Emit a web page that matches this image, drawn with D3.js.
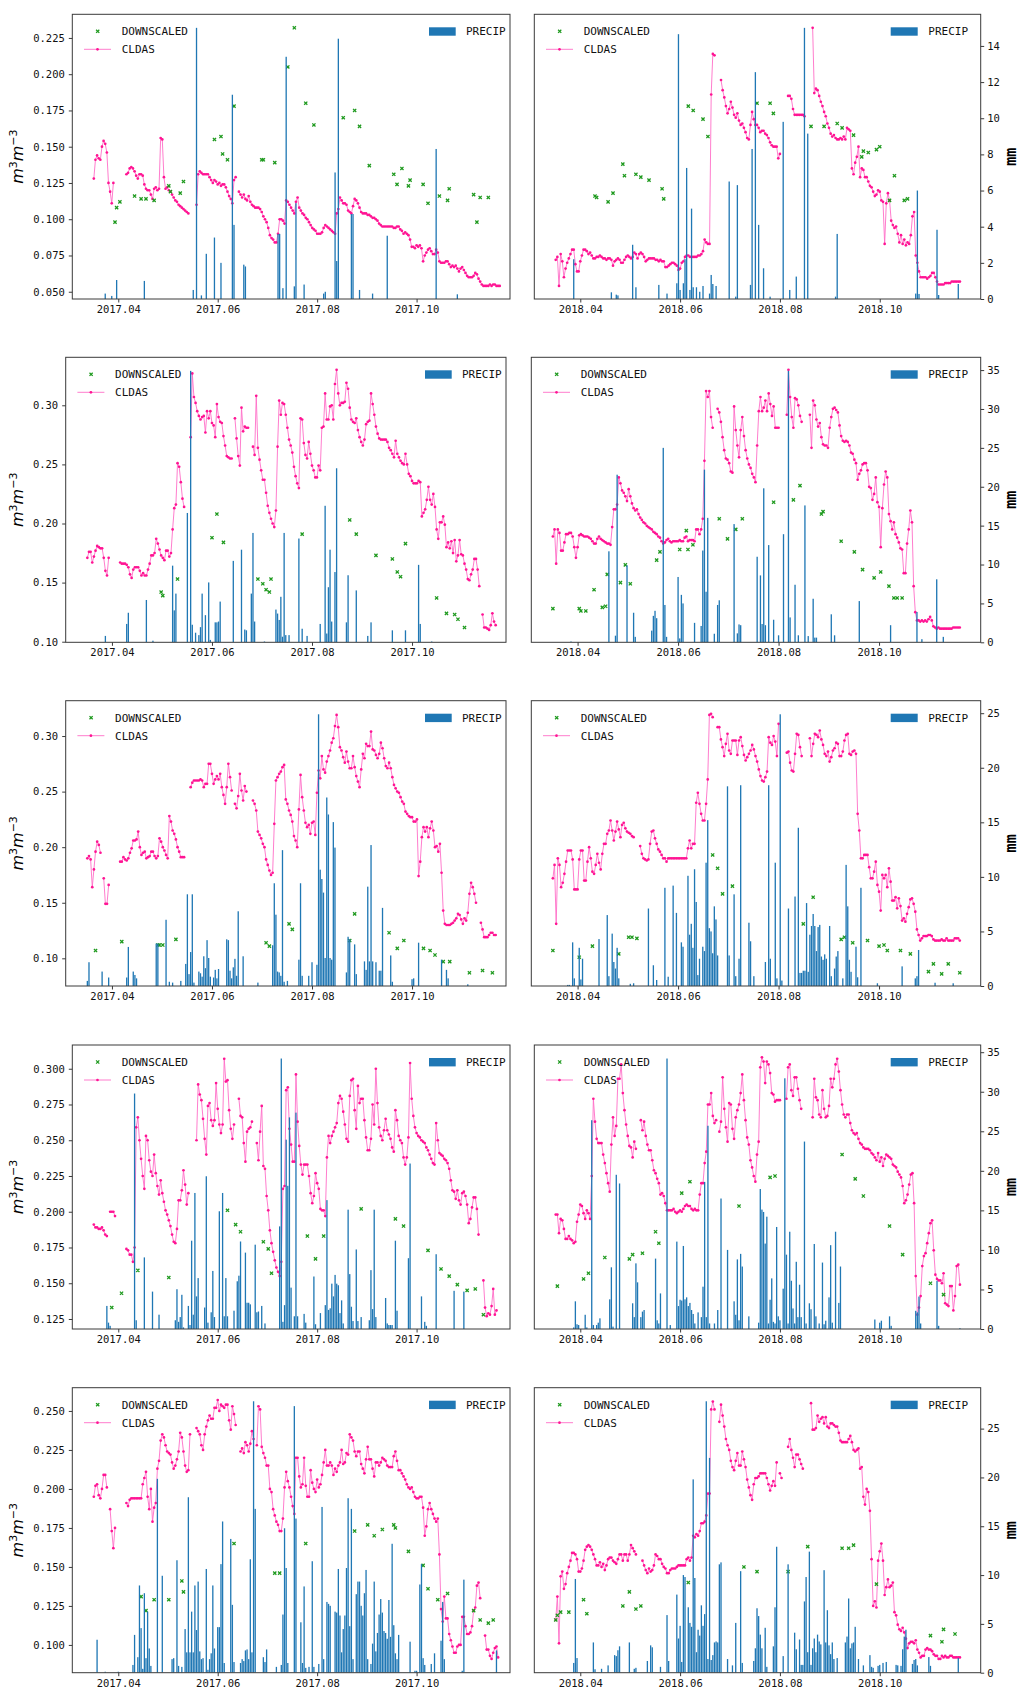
<!DOCTYPE html>
<html>
<head>
<meta charset="utf-8">
<script src="https://cdn.jsdelivr.net/npm/d3@7"></script>
<style>
body{margin:0;background:#fff;}
</style>
</head>
<body>
<svg id="fig"></svg>
<script>
// ---------------- data ----------------
// CLDAS soil moisture, one value per day from the start date, in 1e-3 m3/m3 (null = missing day)
var startDate2017 = "2017-03-17";
var startDate2018 = "2018-03-17";

var cldas17r1 = [128,141,144,142,141,150,154,152,146,125,119,111,125,
null,null,null,null,null,null,null,
131,132,135,136,135,133,130,128,131,131,130,124,121,120,120,117,114,121,122,120,121,156,155,129,121,122,120,119,117,115,113,112,110,109,108,107,106,105,104,
null,null,null,null,
110,131,133,132,131,131,131,131,129,127,125,127,126,124,125,123,124,124,122,119,116,114,111,127,129,
null,
119,117,115,117,114,113,116,112,110,109,108,108,108,107,105,102,100,98,94,89,87,86,84,84,90,100,100,99,97,113,112,110,108,106,104,112,115,108,106,104,103,101,100,98,96,94,93,92,90,90,90,91,94,96,95,94,93,92,91,90,104,107,115,113,111,111,110,106,105,104,109,114,113,111,108,105,104,104,104,103,103,102,101,101,100,99,97,96,95,95,95,95,95,95,95,94,94,95,95,93,92,90,91,90,89,86,81,81,80,82,81,82,80,71,75,77,79,80,78,76,76,79,77,71,70,70,70,71,71,69,67,68,67,68,66,64,66,67,65,63,61,60,60,60,61,63,62,59,57,55,54,54,54,54,55,54,55,55,54,54,54];

var cldas18r1 = [72,74,54,76,71,60,66,70,73,76,79,79,69,64,64,71,75,79,79,78,76,77,75,73,73,74,74,75,74,73,73,72,73,73,72,68,71,72,73,72,70,70,72,74,75,74,73,74,77,76,73,76,77,76,74,71,72,73,73,73,73,72,72,71,72,71,71,67,67,68,69,70,70,69,68,65,66,70,71,74,75,75,74,74,74,74,74,75,75,76,78,86,84,83,83,186,214,213,
null,null,null,
196,189,184,178,173,176,181,177,172,170,173,168,165,166,163,160,156,155,165,174,169,165,165,163,160,161,161,159,158,156,153,151,150,150,150,142,145,
null,null,null,null,
185,185,183,176,172,172,172,172,172,172,171,
null,null,null,null,
232,187,190,189,185,181,178,174,171,166,163,159,157,158,156,155,155,156,155,157,155,163,162,161,135,131,139,143,150,129,135,134,129,129,126,123,122,119,116,117,120,119,113,112,83,111,118,113,99,96,94,95,90,84,89,83,86,82,84,83,89,102,105,75,70,64,60,60,60,60,59,60,61,63,63,60,57,55,55,55,55,56,56,56,56,57,57,57,57,57,57];

var cldas17r2 = [171,176,176,167,172,177,181,180,179,179,171,160,156,171,
null,null,null,null,null,null,
167,166,166,166,165,163,157,154,161,163,163,163,160,156,158,156,156,161,166,173,173,175,187,183,178,173,171,169,177,177,172,175,195,213,216,251,248,235,221,214,
null,null,null,
273,327,307,302,295,291,288,290,291,277,295,289,295,285,283,273,301,290,286,285,274,266,257,256,255,255,
null,
289,272,257,249,298,278,282,281,281,
null,null,
265,258,308,264,254,245,237,237,226,215,209,204,200,197,211,265,304,292,302,301,292,281,271,266,260,248,240,234,230,289,288,268,258,255,269,259,249,245,239,239,249,245,281,282,310,288,288,299,300,288,318,330,310,300,302,302,303,319,314,298,288,286,285,289,279,273,269,266,271,284,286,287,310,301,292,282,276,272,271,271,271,271,269,264,262,259,256,270,259,256,253,251,250,259,250,242,240,236,234,234,234,236,235,206,209,212,220,231,220,216,225,214,195,187,201,201,206,199,180,184,179,185,175,186,168,173,186,174,173,166,161,153,152,157,161,170,170,161,147,
null,
123,112,112,111,110,114,124,117,114];

var cldas18r2 = [189,195,166,195,192,177,177,184,191,191,192,192,189,180,171,180,190,191,190,189,189,189,188,187,185,183,183,187,189,187,186,185,184,183,183,182,197,212,212,216,239,234,228,226,223,219,229,223,217,213,211,212,208,205,203,201,200,198,197,196,195,193,192,191,189,188,185,183,184,186,187,185,184,185,185,185,185,186,185,185,188,189,185,186,186,186,185,195,195,191,195,204,253,312,307,312,290,281,
null,null,
297,294,286,273,262,255,254,251,244,243,299,279,266,256,279,290,274,262,255,250,247,242,239,235,266,295,307,295,298,304,295,310,301,291,299,281,281,281,
null,null,null,null,
292,330,307,290,281,306,305,300,291,286,
null,null,null,null,
292,264,304,300,288,282,285,273,267,266,266,264,281,290,297,298,296,294,283,274,270,269,270,269,266,260,259,254,251,237,242,245,250,251,251,245,231,230,220,225,239,218,214,180,213,233,244,239,208,202,195,201,191,188,184,179,178,158,158,183,195,211,201,147,125,118,118,117,118,117,118,117,119,121,118,113,112,111,112,111,111,111,111,111,111,111,111,112,112,112,112,112];

var cldas17r3 = [190,192,189,164,180,196,205,202,195,
null,
172,149,149,166,
null,null,null,null,null,null,
187,187,191,189,188,190,195,199,206,206,207,214,200,193,195,196,190,191,192,196,196,192,190,192,208,205,200,197,193,190,228,223,215,212,207,200,196,191,191,191,
null,null,null,
254,258,260,260,260,260,261,260,254,257,257,275,275,266,257,261,264,261,266,254,247,239,254,275,263,251,
null,
239,235,246,266,251,242,255,250,
null,null,null,
242,239,233,214,211,208,203,200,189,184,179,175,177,221,260,263,266,268,272,274,243,239,233,229,223,210,206,200,234,265,245,233,222,218,220,212,222,223,211,249,269,262,282,270,267,277,282,287,294,298,309,319,308,290,287,281,276,286,277,271,271,282,272,264,259,254,270,284,280,293,291,291,304,288,287,283,280,284,294,289,280,273,271,276,271,263,256,253,250,249,245,241,239,232,230,228,227,227,223,223,225,174,187,209,218,214,218,209,217,223,215,200,201,196,203,177,143,131,130,130,130,131,132,134,136,140,139,135,131,136,134,141,158,168,164,158,150,
null,null,
132,126,119,119,119,121,123,123,121,121];

var cldas18r3 = [172,184,131,190,184,164,168,176,187,197,197,197,189,162,162,162,189,197,197,170,170,187,200,190,178,176,184,194,186,180,194,203,203,212,215,224,215,206,214,223,216,209,220,222,217,214,213,212,210,209,
null,null,null,
201,194,190,189,188,189,203,214,215,208,203,198,196,193,190,190,187,190,190,190,190,190,190,190,190,190,190,190,190,199,206,199,203,203,240,249,239,230,224,224,239,261,319,320,317,
null,null,
308,308,297,290,282,293,302,287,284,296,296,296,283,296,299,291,283,278,281,284,287,292,288,282,277,270,264,260,259,263,268,299,294,292,300,295,282,311,
null,null,null,null,
285,286,276,269,268,284,302,301,290,282,
null,null,null,null,
298,282,293,302,301,299,305,297,292,284,282,286,277,281,287,289,294,293,282,282,286,296,301,302,284,283,286,287,284,230,215,190,190,193,193,193,182,172,172,178,187,166,160,143,175,172,175,164,181,169,152,152,155,145,154,147,134,136,133,140,146,153,154,149,142,126,121,116,118,120,120,120,121,121,120,117,116,116,116,116,117,116,116,118,116,116,116,116,118,118,118,116];

var cldas17r4 = [191,189,189,188,188,189,187,184,183,
null,
200,200,200,197,
null,null,null,null,null,null,
174,173,170,170,165,175,259,266,250,237,225,216,253,250,236,228,225,240,227,218,212,222,213,207,201,198,194,190,184,179,178,188,208,208,215,229,219,205,213,
null,null,null,null,
250,289,282,278,265,251,240,274,276,264,260,264,290,272,261,255,261,307,291,292,271,258,251,261,
null,null,
279,267,266,248,235,256,258,259,263,
null,null,
248,236,256,274,232,230,211,201,187,178,172,166,161,158,155,165,216,218,285,287,258,247,235,235,296,263,246,233,226,233,233,233,225,213,206,211,227,220,216,202,201,201,197,238,253,248,253,256,259,262,276,281,279,270,261,251,249,281,292,293,271,258,288,276,279,279,264,252,243,243,251,275,261,300,276,259,253,250,257,265,257,254,251,245,242,271,264,253,250,248,238,233,238,252,304,279,267,259,255,253,252,250,249,248,245,243,240,237,234,233,262,250,241,240,239,237,236,234,230,222,215,214,209,215,208,205,213,214,211,205,192,195,203,210,210,202,184,
null,null,
152,133,127,129,128,134,146,128,131];

var cldas18r4 = [198,198,185,195,194,188,181,181,183,181,180,178,179,193,198,205,204,199,195,201,199,195,225,279,263,251,248,248,248,240,234,227,220,214,247,266,253,260,293,293,303,283,271,261,253,246,245,238,249,244,
null,null,
264,257,263,253,247,243,243,236,229,227,223,220,212,213,211,206,201,201,201,201,202,200,199,200,201,200,202,204,205,204,204,202,201,202,201,201,212,220,220,234,242,275,275,283,267,262,264,
null,
256,263,294,272,259,249,276,275,258,251,266,271,275,283,296,278,264,252,247,236,231,225,221,240,249,301,308,305,290,305,303,297,283,282,277,278,278,278,
null,null,null,
279,301,303,285,281,294,294,286,278,272,
null,null,null,null,null,null,
266,293,280,278,268,266,285,272,266,267,274,293,287,293,303,307,298,285,275,268,266,268,268,262,257,255,254,255,251,248,247,245,244,244,244,243,241,240,238,236,241,235,238,232,237,240,239,238,237,233,232,231,228,226,224,218,206,208,212,219,226,227,206,155,128,133,141,162,169,171,178,185,192,194,173,156,153,152,152,150,157,136,135,134,148,148,131,141,162,163,149];

var cldas17r5 = [195,202,203,196,194,200,209,209,201,
null,
187,173,162,175,
null,null,null,null,null,null,
191,189,193,194,194,194,194,194,194,194,203,207,211,195,187,200,179,188,191,213,218,231,235,233,228,224,223,222,217,213,215,219,224,236,233,224,215,211,212,235,
null,null,null,
239,237,235,228,225,235,240,244,247,245,245,252,252,257,250,254,253,252,254,254,244,238,253,248,241,
null,null,
224,226,223,230,228,224,229,237,232,
null,
228,253,251,227,223,220,215,215,200,198,187,183,179,177,173,173,181,201,211,205,201,195,189,184,220,220,208,201,203,220,202,195,195,212,204,200,198,206,201,203,209,217,225,215,215,217,215,209,213,211,215,217,225,216,217,223,222,235,233,231,224,221,224,224,216,213,210,219,227,219,219,213,208,217,217,215,217,220,219,218,215,214,214,214,221,224,218,212,212,210,208,206,203,201,200,201,198,195,194,194,195,195,188,170,176,187,191,187,184,181,179,181,158,123,115,131,117,117,107,103,99,95,95,99,100,100,118,118,112,107,107,108,112,122,124,138,140,130,
null,null,
106,97,97,93,91,95,98,99,92];

var cldas18r5 = [116,131,101,144,147,136,139,146,150,154,159,159,158,155,147,147,149,154,161,163,164,163,161,158,155,151,151,153,150,152,148,151,155,156,156,154,153,152,155,158,158,154,158,158,154,158,164,162,160,158,
null,null,null,
154,151,148,146,149,147,148,151,158,157,155,155,152,150,149,146,146,148,149,149,149,150,151,151,151,151,151,155,156,154,156,170,169,171,170,173,178,178,179,183,197,197,251,256,251,
null,null,
243,254,247,240,232,228,225,218,214,212,218,223,215,215,224,219,214,206,201,196,193,203,207,207,208,210,210,210,210,207,203,199,202,205,202,217,
null,
210,207,
null,null,null,
227,232,225,220,214,222,222,219,216,213,
null,null,null,null,
255,238,238,239,247,243,245,246,242,246,240,239,242,242,241,240,240,236,231,230,230,230,230,232,234,230,225,224,225,226,213,214,195,190,200,198,186,155,125,128,124,154,160,165,154,132,137,142,137,138,140,121,119,113,110,109,111,108,104,98,101,102,102,101,103,97,95,92,93,93,97,98,97,97,96,94,93,93,91,91,93,92,93,92,92,93,93,92,92,92,92,92];

// DOWNSCALED retrievals: [days after 1 April, value in 1e-3 m3/m3]
var down17r1 = [[-2,98],[-1,108],[1,112],[10,116],[14,114],[17,114],[22,113],[31,123],[32,119],[38,118],[40,126],[59,155],[63,157],[64,145],[67,141],[71,178],[88,141],[89,141],[96,139],[104,205],[108,232],[115,180],[120,165],[138,170],[145,175],[148,164],[154,137],[169,131],[171,124],[174,135],[178,123],[179,127],[187,124],[190,111],[197,116],[202,113],[203,121],[218,117],[220,98],[222,115],[227,115]];
var down18r1 = [[9,116],[10,115],[17,112],[20,118],[26,138],[27,130],[34,131],[37,129],[42,127],[50,121],[51,114],[66,178],[69,175],[75,169],[78,157],[108,180],[116,180],[118,173],[141,164],[149,164],[157,166],[160,163],[167,158],[172,143],[173,147],[176,146],[181,148],[183,150],[189,113],[192,130],[198,113],[200,114]];
var down17r2 = [[30,142],[31,139],[40,153],[61,188],[64,208],[68,184],[89,153],[92,149],[94,144],[96,142],[97,153],[116,191],[145,203],[149,191],[161,173],[171,170],[174,159],[176,155],[179,183],[198,137],[204,124],[209,123],[211,119],[215,112]];
var down18r2 = [[-15,128],[1,128],[2,126],[5,126],[10,144],[15,129],[17,130],[18,157],[26,150],[29,165],[32,149],[48,169],[50,176],[62,178],[66,194],[67,178],[70,182],[86,204],[91,187],[96,195],[100,204],[119,218],[131,220],[135,232],[148,208],[149,210],[160,185],[168,176],[173,161],[180,154],[184,159],[189,147],[192,137],[194,137],[197,137]];
var down17r3 = [[-10,107],[6,115],[28,112],[29,112],[31,112],[39,117],[94,114],[96,111],[108,131],[110,126],[145,116],[148,140],[169,123],[174,109],[178,116],[190,109],[194,107],[197,103],[202,97],[206,97],[218,87],[226,89],[232,87]];
var down18r3 = [[-15,107],[1,101],[9,111],[25,104],[31,119],[33,119],[36,118],[82,193],[85,181],[88,158],[94,165],[137,131],[143,155],[160,117],[162,119],[167,114],[176,116],[183,111],[186,112],[188,107],[196,107],[202,104],[213,88],[216,95],[221,86],[225,95],[232,87]];
var down17r4 = [[-4,133],[2,143],[12,159],[31,154],[67,201],[72,191],[75,186],[89,179],[92,174],[94,157],[116,183],[121,167],[126,183],[149,202],[170,195],[175,190],[190,173],[198,160],[203,155],[208,149],[214,145],[219,146],[224,128]];
var down18r4 = [[-14,148],[2,153],[5,157],[15,168],[30,167],[32,170],[38,171],[46,186],[48,178],[62,213],[67,221],[97,204],[116,224],[119,225],[160,240],[168,223],[173,211],[189,190],[197,170],[214,150],[222,142]];
var down17r5 = [[14,131],[17,122],[22,129],[31,129],[39,141],[40,134],[71,165],[96,146],[99,146],[115,165],[145,173],[153,177],[157,170],[162,174],[169,177],[170,175],[178,160],[187,151],[190,136],[196,129],[202,133],[218,122],[222,116],[227,114],[230,116]];
var down18r5 = [[-15,116],[-14,119],[-12,121],[-7,121],[2,129],[4,120],[26,125],[30,134],[34,123],[37,125],[66,140],[100,150],[108,147],[127,147],[139,163],[160,162],[164,162],[167,164],[181,139],[214,106],[221,102],[222,110],[229,107]];

// PRECIP: [days after 1 April, mm]
var rain17r1 = [[-8,0.3],[-4,0.17],[-1,1.05],[16,1.0],[46,0.5],[48,15.0],[51,0.2],[54,2.5],[59,3.4],[63,2.0],[70,11.3],[71,4.1],[77,1.9],[78,1.8],[98,3.6],[99,3.6],[101,0.6],[103,13.4],[108,0.7],[109,5.3],[114,0.8],[126,0.3],[127,0.4],[133,7.0],[134,2.1],[135,14.4],[143,4.7],[144,4.7],[148,0.5],[156,0.3],[165,3.5],[195,8.3],[208,0.26]];
var rain18r1 = [[-4,2.2],[19,0.37],[22,0.24],[23,0.2],[32,3.0],[34,0.65],[48,0.78],[53,0.3],[59,0.87],[60,14.65],[61,0.5],[63,0.87],[64,2.2],[65,7.25],[67,0.5],[68,5.0],[69,0.65],[71,0.65],[73,0.4],[75,0.72],[79,0.3],[80,1.33],[81,0.83],[83,0.72],[91,6.5],[95,0.13],[96,6.3],[104,0.78],[105,8.3],[107,12.55],[109,4.1],[112,1.7],[116,0.13],[124,9.8],[128,0.5],[132,1.24],[137,15.0],[139,9.15],[156,0.13],[157,3.6],[205,0.3],[206,6.0],[207,0.28],[218,3.83],[219,0.22],[231,0.83]];
var rain17r2 = [[-4,0.8],[9,2.3],[10,3.7],[21,5.3],[25,0.2],[37,9.6],[38,4.0],[39,6.1],[46,16.2],[48,34.0],[49,2.2],[51,1.2],[53,0.9],[54,1.9],[55,6.1],[57,3.4],[59,7.5],[60,0.3],[63,2.5],[64,2.5],[65,2.6],[66,5.1],[74,10.2],[79,11.6],[81,1.6],[82,1.5],[85,6.1],[86,13.7],[87,2.6],[93,0.1],[100,4.1],[101,3.6],[102,2.8],[103,5.7],[104,0.7],[105,13.7],[106,0.9],[108,0.9],[114,13.0],[116,1.7],[119,0.8],[127,2.3],[130,17.1],[131,1.1],[132,6.9],[133,11.6],[134,2.6],[136,8.8],[137,21.8],[143,2.5],[144,8.4],[149,6.5],[156,0.8],[158,2.5],[171,1.5],[179,1.5],[187,9.7],[188,2.3],[195,0.1]];
var rain18r2 = [[-4,0.1],[19,11.7],[23,0.85],[24,21.55],[30,9.9],[34,3.8],[35,0.7],[45,1.5],[46,3.4],[47,4.05],[48,3.1],[52,25.0],[53,4.8],[54,0.7],[61,8.4],[62,0.5],[63,6.1],[64,5.0],[71,2.5],[75,2.1],[76,11.8],[77,22.2],[78,6.5],[79,16.0],[83,1.1],[85,4.8],[86,5.4],[95,15.2],[97,1.15],[98,2.3],[99,2.2],[109,11.0],[111,8.6],[112,2.35],[113,19.8],[114,2.2],[116,12.5],[119,2.9],[122,0.9],[125,13.9],[128,34.9],[129,3.2],[132,7.4],[134,0.9],[138,17.6],[140,0.8],[143,5.6],[144,0.6],[145,0.6],[154,3.6],[156,0.9],[171,5.3],[190,2.2],[206,3.9],[209,0.4],[218,8.1],[222,0.7]];
var rain17r3 = [[-15,0.6],[-14,2.8],[-6,1.7],[-2,1.0],[9,1.0],[10,4.6],[13,1.7],[14,1.3],[15,0.9],[27,5.0],[28,5.0],[33,7.8],[35,0.5],[37,0.4],[42,0.6],[45,2.6],[46,10.8],[47,1.4],[48,4.0],[49,10.8],[50,0.4],[53,1.7],[54,1.5],[55,1.1],[56,3.5],[57,2.1],[58,5.4],[59,3.3],[60,1.1],[62,1.0],[63,1.9],[64,0.9],[65,2.0],[70,5.5],[71,5.4],[72,1.8],[73,0.9],[74,2.2],[75,3.2],[76,1.2],[77,8.8],[80,3.5],[89,0.4],[98,4.8],[99,12.1],[100,8.4],[101,1.7],[102,1.6],[103,1.2],[104,16.0],[105,0.5],[107,0.6],[114,3.1],[115,12.1],[116,1.2],[120,1.2],[122,2.8],[125,2.5],[126,32.0],[127,13.7],[128,12.6],[129,11.0],[130,3.3],[131,22.2],[132,20.2],[133,3.3],[134,3.1],[135,19.3],[136,16.3],[143,1.6],[144,5.8],[145,5.5],[148,4.9],[149,1.4],[154,2.9],[155,1.9],[156,11.7],[157,2.9],[158,16.6],[159,2.9],[161,2.8],[163,1.8],[164,1.8],[165,9.2],[170,3.6],[171,0.5],[183,0.8],[184,0.9],[187,5.1],[201,3.1],[204,1.9],[205,0.9],[217,0.2]];
var rain18r3 = [[-6,0.1],[-5,0.1],[-3,4.0],[-2,0.7],[1,3.5],[2,0.6],[3,2.5],[13,4.3],[18,6.5],[19,0.9],[21,4.8],[22,2.2],[23,1.6],[24,3.5],[25,0.7],[32,0.2],[34,0.25],[43,7.1],[46,1.9],[48,0.55],[53,9.0],[55,0.85],[58,9.2],[60,6.7],[63,4.0],[64,3.6],[67,10.1],[68,4.7],[69,5.7],[70,3.5],[71,10.7],[72,7.7],[73,1.0],[74,2.5],[76,3.6],[77,3.2],[78,11.3],[79,15.2],[80,5.3],[81,5.0],[82,3.0],[83,7.3],[84,6.1],[85,2.8],[91,18.3],[92,2.8],[95,8.4],[96,0.9],[98,2.5],[99,18.4],[104,5.8],[105,4.1],[107,0.9],[114,2.2],[116,18.4],[117,2.5],[120,11.3],[121,0.7],[123,24.9],[124,0.5],[128,7.1],[132,8.2],[134,14.5],[135,1.2],[136,1.2],[137,1.4],[138,1.4],[139,7.6],[140,1.3],[141,4.7],[142,5.5],[143,6.6],[144,5.5],[145,3.2],[146,5.4],[147,5.6],[148,2.7],[149,2.4],[150,2.9],[151,2.5],[153,5.5],[154,0.9],[156,1.6],[157,2.7],[158,3.2],[161,0.7],[163,11.1],[164,7.3],[165,2.4],[166,1.3],[169,3.6],[170,0.8],[172,9.0],[182,0.25],[197,1.8],[205,0.7],[206,0.9],[207,3.3],[217,0.3],[228,0.25]];
var rain17r4 = [[-7,2.9],[-6,0.8],[-5,0.4],[10,29.6],[11,1.1],[16,9.0],[21,4.7],[25,1.8],[35,1.1],[36,5.0],[37,0.9],[38,1.5],[39,4.3],[40,0.2],[43,2.9],[44,0.5],[45,11.1],[46,1.8],[47,17.1],[48,4.1],[49,6.4],[53,2.7],[54,19.2],[55,0.8],[57,2.1],[58,7.3],[59,1.5],[62,14.8],[64,17.1],[65,1.6],[66,6.4],[67,1.6],[71,2.3],[73,6.0],[74,6.7],[75,11.0],[78,9.6],[79,3.3],[80,3.3],[81,3.1],[84,10.6],[85,2.1],[86,2.2],[88,2.9],[90,0.7],[99,12.9],[100,34.0],[101,0.9],[102,3.0],[103,23.8],[104,18.0],[105,26.6],[106,5.2],[108,1.6],[109,27.2],[110,1.6],[114,1.9],[115,0.8],[120,6.6],[121,0.6],[124,2.0],[127,3.0],[128,16.2],[129,2.4],[130,2.6],[131,5.7],[132,4.1],[133,6.8],[134,5.7],[135,5.5],[136,2.0],[137,3.6],[138,0.7],[141,15.0],[142,6.9],[143,2.8],[144,1.0],[146,10.0],[147,1.0],[149,1.5],[154,1.1],[155,7.4],[156,2.5],[157,15.0],[158,1.5],[164,3.9],[165,0.7],[166,0.5],[167,0.5],[168,0.5],[170,11.1],[171,2.3],[178,8.9],[179,20.8],[186,4.1],[188,0.9],[189,0.4],[195,9.4],[206,4.8],[212,4.7]];
var rain18r4 = [[-4,0.2],[-3,3.5],[-2,0.6],[-1,0.5],[3,1.8],[4,0.2],[7,26.4],[8,0.5],[10,0.5],[11,0.8],[12,1.35],[18,3.75],[19,7.8],[20,0.3],[22,19.5],[24,18.4],[32,3.25],[33,1.5],[34,8.3],[35,5.9],[37,1.5],[38,2.2],[39,2.4],[46,8.9],[47,1.1],[48,0.7],[49,4.5],[53,34.2],[55,0.5],[59,11.05],[60,2.9],[61,3.7],[62,3.6],[63,10.5],[64,3.75],[65,4.0],[66,2.9],[67,3.3],[68,2.4],[69,1.9],[70,0.7],[72,2.1],[74,1.5],[75,5.35],[76,18.6],[77,1.5],[78,25.7],[79,0.7],[82,0.7],[84,2.4],[86,16.5],[90,10.0],[94,3.5],[95,1.8],[96,8.8],[97,1.1],[98,9.5],[99,7.9],[103,1.6],[109,0.8],[110,17.7],[111,15.1],[112,14.8],[113,10.8],[114,14.2],[115,0.7],[116,3.7],[117,6.4],[118,0.9],[119,0.7],[120,12.9],[121,1.6],[122,1.1],[124,5.1],[125,31.7],[126,9.4],[127,0.7],[128,12.3],[129,6.1],[130,2.6],[131,0.7],[132,8.5],[133,1.5],[134,5.6],[135,1.5],[137,23.7],[138,0.7],[140,3.25],[141,2.5],[143,10.75],[144,1.6],[146,0.7],[148,8.4],[149,0.6],[150,1.05],[152,4.0],[153,10.6],[154,0.8],[156,12.3],[158,3.3],[159,7.9],[180,1.2],[183,0.8],[184,1.05],[189,1.6],[190,0.4],[205,2.3],[206,2.1],[207,4.1],[208,0.7],[218,6.1],[219,0.4],[232,0.1]];
var rain17r5 = [[-13,3.4],[-8,0.1],[0,0.1],[9,0.8],[10,3.9],[12,1.6],[13,9.0],[14,4.6],[15,0.4],[16,8.2],[17,1.5],[18,6.3],[19,2.5],[20,0.7],[24,20.0],[27,10.0],[33,1.4],[34,1.5],[36,11.6],[37,0.7],[39,0.6],[41,4.5],[42,2.1],[43,18.1],[44,2.1],[45,6.3],[46,2.1],[47,9.0],[48,4.4],[49,9.4],[50,2.2],[51,1.4],[52,1.5],[54,10.7],[55,0.3],[56,1.4],[57,2.0],[58,9.0],[59,2.5],[61,4.7],[62,4.7],[63,11.2],[64,15.6],[65,1.0],[69,13.8],[70,7.0],[71,1.1],[75,1.0],[76,1.4],[77,1.2],[78,2.3],[79,2.4],[80,1.4],[81,11.7],[82,2.1],[83,28.0],[84,16.9],[89,1.6],[90,1.1],[91,2.4],[97,0.6],[100,0.8],[101,6.0],[102,14.9],[103,10.8],[104,1.0],[108,27.5],[109,15.9],[112,5.2],[113,1.0],[114,8.9],[115,0.5],[117,0.6],[119,11.5],[120,0.6],[123,0.9],[125,17.1],[126,1.4],[128,7.3],[129,7.1],[130,6.9],[133,6.3],[134,6.2],[135,10.7],[136,5.9],[137,2.1],[138,4.5],[139,5.9],[140,10.8],[141,18.0],[142,4.8],[143,16.9],[144,1.4],[146,8.1],[147,9.4],[148,9.4],[149,6.9],[150,5.9],[151,8.2],[152,10.6],[153,1.4],[155,0.9],[156,3.0],[157,9.4],[158,2.2],[159,4.1],[160,6.0],[161,7.6],[162,6.2],[163,4.3],[164,4.1],[165,3.5],[166,7.5],[167,3.7],[168,13.3],[169,4.9],[170,2.0],[171,1.4],[172,3.9],[179,3.2],[182,0.2],[183,0.2],[185,9.1],[186,11.2],[187,1.5],[188,0.8],[192,0.9],[194,2.0],[198,3.3],[199,7.3],[200,1.4],[211,0.2],[212,9.6],[232,2.3]];
var rain18r5 = [[-4,1.0],[-3,9.6],[-2,1.5],[8,3.1],[9,0.35],[13,0.4],[17,0.75],[21,1.8],[22,1.7],[23,2.3],[24,2.7],[30,3.1],[33,0.4],[34,0.5],[41,1.2],[43,2.8],[44,2.6],[49,0.6],[53,5.9],[54,1.2],[59,8.0],[60,3.5],[61,4.8],[62,1.1],[63,10.0],[64,9.8],[66,6.7],[67,5.1],[68,4.7],[69,19.8],[70,9.7],[71,2.1],[72,4.4],[73,3.8],[74,6.9],[75,4.8],[76,6.0],[77,27.8],[78,1.4],[79,22.0],[80,1.3],[81,1.8],[82,3.1],[83,3.2],[84,3.1],[85,11.1],[86,11.3],[90,1.4],[93,0.75],[95,5.1],[98,10.4],[99,1.0],[106,1.2],[107,2.5],[108,6.6],[109,5.8],[110,3.9],[111,2.5],[113,4.6],[114,0.6],[118,2.7],[119,6.7],[120,12.9],[124,1.7],[127,11.1],[131,4.1],[132,2.4],[134,3.4],[135,0.8],[136,0.8],[137,7.3],[138,9.8],[139,2.1],[140,12.4],[141,0.8],[142,2.5],[143,3.5],[144,2.1],[145,3.9],[146,3.2],[147,2.9],[149,10.5],[150,3.1],[151,6.4],[152,2.8],[153,1.9],[154,3.1],[155,1.4],[157,1.5],[162,3.1],[163,3.7],[164,7.6],[165,2.5],[166,3.0],[167,3.1],[168,4.7],[170,1.4],[173,0.75],[177,1.8],[178,0.6],[179,0.5],[182,0.7],[183,0.8],[185,1.0],[187,1.1],[193,0.8],[194,0.75],[196,0.7],[197,2.4],[198,3.7],[199,4.4],[203,0.9],[204,1.3],[205,1.4],[206,0.75],[213,1.6],[214,0.7],[231,1.5]];

// tick values / labels
var xTicks2017 = ["2017-04-01","2017-06-01","2017-08-01","2017-10-01"];
var xTicks2018 = ["2018-04-01","2018-06-01","2018-08-01","2018-10-01"];
var yTicksR1 = [0.050,0.075,0.100,0.125,0.150,0.175,0.200,0.225];
var yTicksR2 = [0.10,0.15,0.20,0.25,0.30];
var yTicksR3 = [0.10,0.15,0.20,0.25,0.30];
var yTicksR4 = [0.125,0.150,0.175,0.200,0.225,0.250,0.275,0.300];
var yTicksR5 = [0.100,0.125,0.150,0.175,0.200,0.225,0.250];
var mmTicksR1 = [0,2,4,6,8,10,12,14];
var mmTicksR2 = [0,5,10,15,20,25,30,35];
var mmTicksR3 = [0,5,10,15,20,25];
var mmTicksR4 = [0,5,10,15,20,25,30,35];
var mmTicksR5 = [0,5,10,15,20,25];

// ---------------- layout ----------------
var W = 1020, H = 1691;
var DAY = 864e5;
var xDomL = [-28.2, 240.3]; // days after 1 April
var xDomR = [-28.1, 244.7];
var rows = [
	{top:14.3,  bottom:299,    left:[72.3,510], right:[534.3,980.7], ydom:[0.045,0.2413],  fmt:".3f"},
	{top:357.3, bottom:642.3,  left:[65.7,506], right:[531.3,980.7], ydom:[0.0995,0.3406], fmt:".2f"},
	{top:700.7, bottom:986,    left:[65.7,506], right:[531.3,980.7], ydom:[0.0751,0.3318], fmt:".2f"},
	{top:1045,  bottom:1329,   left:[72.3,510], right:[534.3,980.7], ydom:[0.118,0.3166],  fmt:".3f"},
	{top:1387.7,bottom:1672.7, left:[72.3,510], right:[534.3,980.7], ydom:[0.0822,0.2649], fmt:".3f"}
];
var rowData = [
	{c17:cldas17r1, c18:cldas18r1, d17:down17r1, d18:down18r1, r17:rain17r1, r18:rain18r1, yt:yTicksR1, mt:mmTicksR1},
	{c17:cldas17r2, c18:cldas18r2, d17:down17r2, d18:down18r2, r17:rain17r2, r18:rain18r2, yt:yTicksR2, mt:mmTicksR2},
	{c17:cldas17r3, c18:cldas18r3, d17:down17r3, d18:down18r3, r17:rain17r3, r18:rain18r3, yt:yTicksR3, mt:mmTicksR3},
	{c17:cldas17r4, c18:cldas18r4, d17:down17r4, d18:down18r4, r17:rain17r4, r18:rain18r4, yt:yTicksR4, mt:mmTicksR4},
	{c17:cldas17r5, c18:cldas18r5, d17:down17r5, d18:down18r5, r17:rain17r5, r18:rain18r5, yt:yTicksR5, mt:mmTicksR5}
];

var pinkLine = "#ff6ec7", pinkDot = "#ff1493", green = "#1f9a1f", blue = "#1f77b4";
var tickFont = "'DejaVu Sans Mono', monospace";

var svg = d3.select("#fig").attr("width", W).attr("height", H)
	.attr("viewBox", [0, 0, W, H]).style("background", "#fff");

function apr1(year){ return Date.UTC(year, 3, 1); }
function dayDate(year, d){ return new Date(apr1(year) + d * DAY); }

function xMark(g, cx, cy, s){
	g.append("path")
		.attr("d", "M"+(cx-s)+","+(cy-s)+"L"+(cx+s)+","+(cy+s)+"M"+(cx-s)+","+(cy+s)+"L"+(cx+s)+","+(cy-s))
		.attr("stroke", green).attr("stroke-width", 1.3).attr("fill", "none");
}

function drawPanel(ri, side){
	var row = rows[ri], rd = rowData[ri];
	var isL = side == "L";
	var year = isL ? 2017 : 2018;
	var box = isL ? row.left : row.right;
	var xd = isL ? xDomL : xDomR;
	var cl = isL ? rd.c17 : rd.c18;
	var down = isL ? rd.d17 : rd.d18;
	var rain = isL ? rd.r17 : rd.r18;
	var start = new Date((isL ? startDate2017 : startDate2018) + "T00:00:00Z");

	var x = d3.scaleUtc().domain([dayDate(year, xd[0]), dayDate(year, xd[1])]).range(box);
	var y = d3.scaleLinear().domain(row.ydom).range([row.bottom, row.top]);
	var ymm = d3.scaleLinear().domain([0, d3.max(rain, d => d[1]) * 1.05]).range([row.bottom, row.top]);

	var g = svg.append("g");
	var cid = "clip" + ri + side;
	g.append("clipPath").attr("id", cid).append("rect")
		.attr("x", box[0]).attr("y", row.top)
		.attr("width", box[1] - box[0]).attr("height", row.bottom - row.top);
	var plot = g.append("g").attr("clip-path", "url(#" + cid + ")");

	// CLDAS daily series
	var pts = cl.map(function(v, i){ return {date: d3.utcDay.offset(start, i), v: v}; });
	var line = d3.line()
		.defined(d => d.v != null)
		.x(d => x(d.date))
		.y(d => y(d.v / 1000));
	plot.append("path").datum(pts)
		.attr("d", line).attr("fill", "none")
		.attr("stroke", pinkLine).attr("stroke-width", 0.9);
	plot.append("g").selectAll("circle")
		.data(pts.filter(d => d.v != null))
		.join("circle")
		.attr("cx", d => x(d.date)).attr("cy", d => y(d.v / 1000))
		.attr("r", 1.35).attr("fill", pinkDot);

	// DOWNSCALED
	var dg = plot.append("g");
	down.forEach(function(d){
		xMark(dg, x(dayDate(year, d[0])), y(d[1] / 1000), 1.6);
	});

	// PRECIP bars (twin axis, drawn on top)
	var bw = x(dayDate(year, 0.8)) - x(dayDate(year, 0));
	plot.append("g").selectAll("rect")
		.data(rain)
		.join("rect")
		.attr("x", d => x(dayDate(year, d[0])) - bw / 2)
		.attr("width", bw)
		.attr("y", d => ymm(d[1]))
		.attr("height", d => row.bottom - ymm(d[1]))
		.attr("fill", blue);

	// frame
	g.append("rect")
		.attr("x", box[0]).attr("y", row.top)
		.attr("width", box[1] - box[0]).attr("height", row.bottom - row.top)
		.attr("fill", "none").attr("stroke", "#3a3a3a").attr("stroke-width", 1);

	// axes
	var xt = (isL ? xTicks2017 : xTicks2018).map(s => new Date(s + "T00:00:00Z"));
	var ax = g.append("g").attr("transform", "translate(0," + row.bottom + ")")
		.call(d3.axisBottom(x).tickValues(xt).tickFormat(d3.utcFormat("%Y.%m")).tickSize(3.5).tickPadding(3));
	ax.select(".domain").remove();
	styleAxis(ax);

	if(isL){
		var ay = g.append("g").attr("transform", "translate(" + box[0] + ",0)")
			.call(d3.axisLeft(y).tickValues(rd.yt).tickFormat(d3.format(row.fmt)).tickSize(3.5).tickPadding(4));
		ay.select(".domain").remove();
		styleAxis(ay);
	} else {
		var am = g.append("g").attr("transform", "translate(" + box[1] + ",0)")
			.call(d3.axisRight(ymm).tickValues(rd.mt).tickFormat(d3.format("d")).tickSize(3.5).tickPadding(3));
		am.select(".domain").remove();
		styleAxis(am);
	}

	// legends
	var lg = g.append("g").attr("font-family", tickFont).attr("font-size", "11px").attr("fill", "#111");
	var t = row.top;
	xMark(lg, box[0] + 25.4, t + 17, 1.6);
	lg.append("text").attr("x", box[0] + 49.4).attr("y", t + 17).attr("dy", "0.36em").text("DOWNSCALED");
	lg.append("line").attr("x1", box[0] + 11.7).attr("x2", box[0] + 38.7)
		.attr("y1", t + 35).attr("y2", t + 35).attr("stroke", pinkLine).attr("stroke-width", 0.9);
	lg.append("circle").attr("cx", box[0] + 25.2).attr("cy", t + 35).attr("r", 1.35).attr("fill", pinkDot);
	lg.append("text").attr("x", box[0] + 49.4).attr("y", t + 35).attr("dy", "0.36em").text("CLDAS");

	var off = isL ? [81, 54.3, 44] : [90, 63, 52.4];
	lg.append("rect").attr("x", box[1] - off[0]).attr("y", t + 13)
		.attr("width", off[0] - off[1]).attr("height", 8.4).attr("fill", blue);
	lg.append("text").attr("x", box[1] - off[2]).attr("y", t + 17).attr("dy", "0.36em").text("PRECIP");

	// axis titles
	var cy = (row.top + row.bottom) / 2;
	if(isL){
		var lab = svg.append("text")
			.attr("transform", "translate(23," + cy + ") rotate(-90)")
			.attr("text-anchor", "middle")
			.attr("font-family", "'DejaVu Sans', sans-serif")
			.attr("font-size", "16px").attr("font-style", "italic");
		lab.append("tspan").text("m");
		lab.append("tspan").attr("baseline-shift", "super").attr("font-size", "11px").attr("font-style", "normal").text("3");
		lab.append("tspan").text("m");
		lab.append("tspan").attr("baseline-shift", "super").attr("font-size", "11px").attr("font-style", "normal").text("\u22123");
	} else {
		// baseline kept inside the page so the descent does not cross the edge
		svg.append("text")
			.attr("transform", "translate(1015.5," + cy + ") rotate(-90)")
			.attr("text-anchor", "middle")
			.attr("font-family", tickFont).attr("font-weight", "bold")
			.attr("font-size", "15px").text("mm");
	}
}

function styleAxis(a){
	a.attr("font-family", tickFont).attr("font-size", "10.5px");
	a.selectAll("line").attr("stroke", "#3a3a3a");
	a.selectAll("text").attr("fill", "#111");
}

for(var i = 0; i < rows.length; i++){
	drawPanel(i, "L");
	drawPanel(i, "R");
}
</script>
</body>
</html>
